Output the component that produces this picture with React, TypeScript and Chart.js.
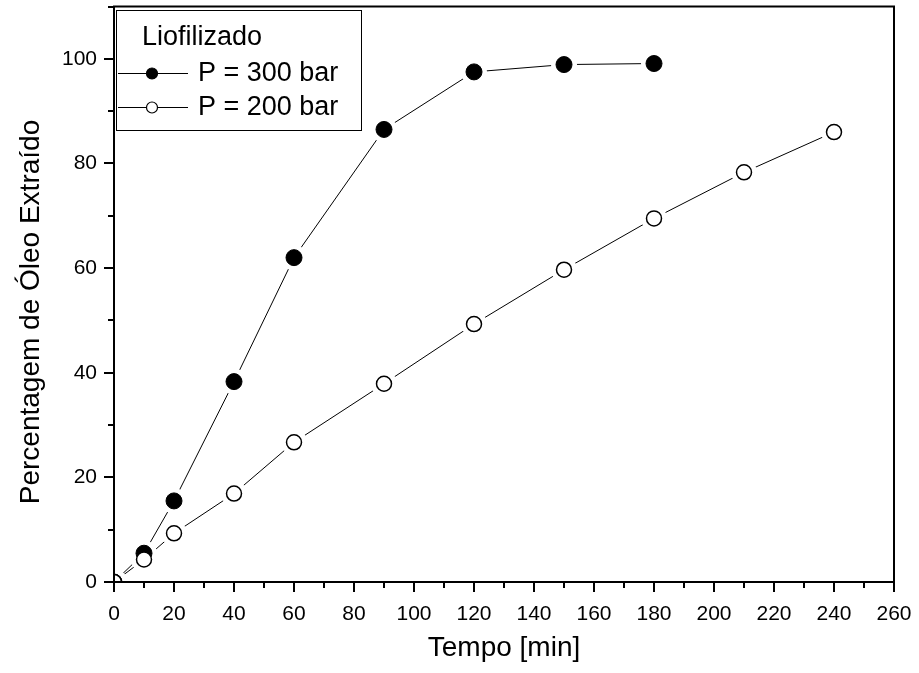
import React, { useEffect, useRef } from "react";
import { Chart, registerables } from "chart.js";

Chart.register(...registerables);

// ---- data ----
const time300 = [0, 10, 20, 40, 60, 90, 120, 150, 180];
const pct300 = [0, 5.5, 15.5, 38.3, 62.0, 86.5, 97.5, 98.9, 99.1];
const time200 = [0, 10, 20, 40, 60, 90, 120, 150, 180, 210, 240];
const pct200 = [0, 4.3, 9.3, 16.9, 26.7, 37.9, 49.3, 59.7, 69.5, 78.3, 86.0];
const seriesLabels = ["P = 300 bar", "P = 200 bar"];
const legendTitle = "Liofilizado";
const xTitle = "Tempo [min]";
const yTitle = "Percentagem de Óleo Extraído";
const xRange = [0, 260];
const yRange = [0, 110];

const FONT = '"Liberation Sans", Arial, Helvetica, sans-serif';
const AREA = { left: 114, top: 6.5, right: 894, bottom: 582 };

const pts = (xs: number[], ys: number[]) => xs.map((x, i) => ({ x, y: ys[i] }));

const areaPlugin = {
  id: "fixArea",
  afterLayout(chart: any) {
    const ca = chart.chartArea;
    const { x, y } = chart.scales;
    ca.left = AREA.left; ca.top = AREA.top; ca.right = AREA.right; ca.bottom = AREA.bottom;
    ca.width = ca.right - ca.left; ca.height = ca.bottom - ca.top;
    y.top = ca.top; y.bottom = ca.bottom; y.height = ca.height; y.configure();
    x.left = ca.left; x.right = ca.right; x.width = ca.width; x.configure();
  },
};

const framePlugin = {
  id: "frameTicks",
  afterDraw(chart: any) {
    const { ctx, chartArea, scales } = chart;
    const { left, right, top, bottom } = chartArea;
    const xs = scales.x;
    const ys = scales.y;
    ctx.save();
    ctx.strokeStyle = "#000";
    ctx.lineWidth = 2;
    ctx.strokeRect(left, top, right - left, bottom - top);
    ctx.beginPath();
    for (let v = xRange[0]; v <= xRange[1]; v += 10) {
      const px = Math.round(xs.getPixelForValue(v));
      const len = v % 20 === 0 ? 10 : 6;
      ctx.moveTo(px, bottom);
      ctx.lineTo(px, bottom + len);
    }
    for (let v = yRange[0]; v <= yRange[1]; v += 10) {
      const py = Math.round(ys.getPixelForValue(v));
      const len = v % 20 === 0 ? 10 : 6;
      ctx.moveTo(left, py);
      ctx.lineTo(left - len, py);
    }
    ctx.stroke();

    // y axis title
    ctx.save();
    ctx.translate(31, 312);
    ctx.rotate(-Math.PI / 2);
    ctx.font = `28px ${FONT}`;
    ctx.fillStyle = "#000";
    ctx.textAlign = "center";
    ctx.textBaseline = "middle";
    ctx.fillText(yTitle, 0, 0);
    ctx.restore();

    // legend box
    const bx = 116, by = 10, bw = 245, bh = 120;
    ctx.fillStyle = "#fff";
    ctx.fillRect(bx, by, bw, bh);
    ctx.lineWidth = 1;
    ctx.strokeRect(bx + 0.5, by + 0.5, bw, bh);
    ctx.fillStyle = "#000";
    ctx.textBaseline = "middle";
    ctx.textAlign = "left";
    ctx.font = `27px ${FONT}`;
    ctx.fillText(legendTitle, 142, 38);
    const rows = [73, 107];
    rows.forEach((ry, i) => {
      ctx.beginPath();
      ctx.lineWidth = 1;
      ctx.moveTo(118, ry + 0.5);
      ctx.lineTo(188, ry + 0.5);
      ctx.stroke();
      ctx.beginPath();
      ctx.arc(152, ry + 0.5, 5.5, 0, Math.PI * 2);
      ctx.fillStyle = i === 0 ? "#000" : "#fff";
      ctx.fill();
      ctx.lineWidth = 1.2;
      ctx.stroke();
      ctx.fillStyle = "#000";
      ctx.fillText(seriesLabels[i], 198, ry + 1);
    });
    ctx.restore();
  },
};

export default function App() {
  const ref = useRef<HTMLCanvasElement | null>(null);
  useEffect(() => {
    if (!ref.current) return;
    const d300 = pts(time300, pct300);
    const d200 = pts(time200, pct200);
    const chart = new Chart(ref.current, {
      type: "scatter",
      data: {
        datasets: [
          { label: seriesLabels[1], data: d200, showLine: false, pointRadius: 7.5, pointBackgroundColor: "#fff", pointBorderColor: "#000", pointBorderWidth: 1.5, order: 1 },
          { label: seriesLabels[0], data: d300, showLine: false, pointRadius: 8, pointBackgroundColor: "#000", pointBorderColor: "#000", pointBorderWidth: 1, order: 2 },
          { label: "halo200", data: d200, showLine: false, pointRadius: 13, pointBackgroundColor: "#fff", pointBorderWidth: 0, pointBorderColor: "#fff", order: 4 },
          { label: "halo300", data: d300, showLine: false, pointRadius: 13, pointBackgroundColor: "#fff", pointBorderWidth: 0, pointBorderColor: "#fff", order: 4 },
          { label: "line200", data: d200, showLine: true, pointRadius: 0, borderColor: "#000", borderWidth: 1, order: 5 },
          { label: "line300", data: d300, showLine: true, pointRadius: 0, borderColor: "#000", borderWidth: 1, order: 5 },
        ],
      },
      options: {
        animation: false,
        responsive: false,
        maintainAspectRatio: false,
        events: [],
        layout: { padding: { left: 0, right: 25, top: 6, bottom: 0 } },
        plugins: { legend: { display: false }, tooltip: { enabled: false } },
        scales: {
          x: {
            type: "linear",
            min: xRange[0],
            max: xRange[1],
            grid: { display: false, tickLength: 8 },
            border: { display: false },
            ticks: {
              stepSize: 10,
              autoSkip: false,
              maxRotation: 0,
              padding: 12,
              color: "#000",
              font: { family: FONT, size: 21 },
              callback: (v: any) => (Number(v) % 20 === 0 ? String(v) : null),
            },
            title: { display: true, text: xTitle, color: "#000", font: { family: FONT, size: 28 }, padding: { top: 0, bottom: 8 } },
            afterFit: (s: any) => { s.height = 91; },
          },
          y: {
            type: "linear",
            min: yRange[0],
            max: yRange[1],
            grid: { display: false, tickLength: 17 },
            border: { display: false },
            ticks: {
              stepSize: 10,
              autoSkip: false,
              padding: 0,
              color: "#000",
              font: { family: FONT, size: 21 },
              callback: (v: any) => (Number(v) % 20 === 0 && Number(v) <= 100 ? String(v) : null),
            },
            title: { display: false, text: yTitle },
            afterFit: (s: any) => { s.width = 114; },
          },
        },
      },
      plugins: [areaPlugin, framePlugin],
    } as any);
    return () => chart.destroy();
  }, []);
  return (
    <div style={{ position: "absolute", left: 0, top: 0, width: 919, height: 673, background: "#fff" }}>
      <canvas ref={ref} width={919} height={673} style={{ display: "block" }} />
    </div>
  );
}
